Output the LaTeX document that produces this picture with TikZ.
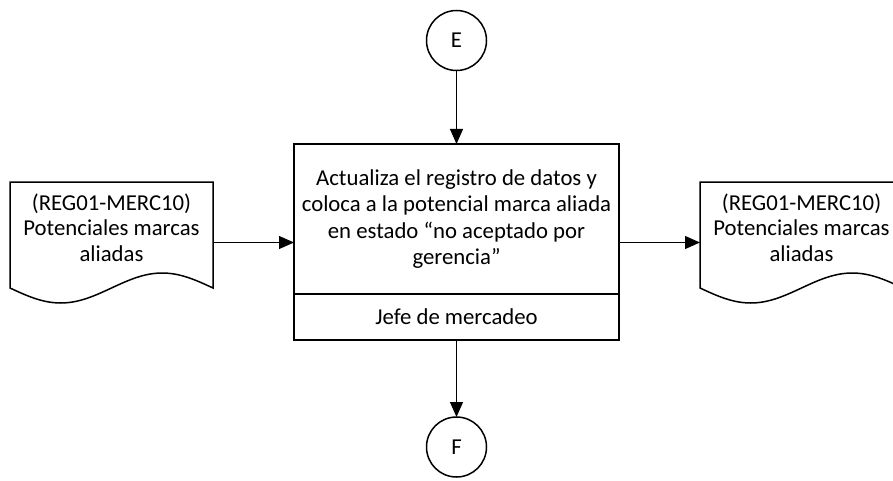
\documentclass[tikz,border=0pt]{standalone}
\usepackage{fontspec}
\setmainfont{Carlito}
\usetikzlibrary{arrows.meta}
\begin{document}
\begin{tikzpicture}[x=1pt,y=-1pt,
	>={Triangle[length=15pt,width=13pt]},
	every node/.style={font=\fontsize{22.75}{26.5}\selectfont,
		align=center,inner sep=0pt,outer sep=0pt},
	conn/.style={draw,circle,line width=1.5pt,minimum size=60pt},
	proc/.style={draw,line width=1.5pt,minimum width=325pt},
	docshape/.style={minimum width=203pt,minimum height=121pt},
	doctext/.style={font=\fontsize{22.75}{25.5}\selectfont},
	flow/.style={->,line width=1pt}]
	\useasboundingbox (0,0) rectangle (893,481);
	\clip (0,0) rectangle (893,481);
	% conectores
	\node[conn] (E) at (456.5,40.5) {E};
	\node[conn] (F) at (456.5,447) {F};
	% actividad
	\node[proc,minimum height=150pt] (act) at (456.5,219)
	{Actualiza el registro de datos y\\coloca a la potencial marca aliada\\en estado “no aceptado por\\gerencia”};
	\node[proc,minimum height=46pt,anchor=north] (resp) at (act.south)
	{Jefe de mercadeo};
	% documentos
	\node[docshape] (docL) at (111.5,242.5) {};
	\node[doctext] (docLtxt) at (111.5,227.5)
	{(REG01-MERC10)\\Potenciales marcas\\aliadas};
	\draw[line width=1.5pt] (docL.north west) -- (docL.north east)
	-- ++(0,106) sin ++(-50.75,-15) cos ++(-50.75,15)
	sin ++(-50.75,15) cos ++(-50.75,-15) -- cycle;
	\node[docshape] (docR) at (801.5,242.5) {};
	\node[doctext] (docRtxt) at (801.5,227.5)
	{(REG01-MERC10)\\Potenciales marcas\\aliadas};
	\draw[line width=1.5pt] (docR.north west) -- (docR.north east)
	-- ++(0,106) sin ++(-50.75,-15) cos ++(-50.75,15)
	sin ++(-50.75,15) cos ++(-50.75,-15) -- cycle;
	% flujo
	\draw[flow] (E) -- (act);
	\draw[flow] (resp) -- (F);
	\draw[flow] (docL.east) -- (docL.east -| act.west);
	\draw[flow] (act.east |- docR.west) -- (docR.west);
\end{tikzpicture}
\end{document}
